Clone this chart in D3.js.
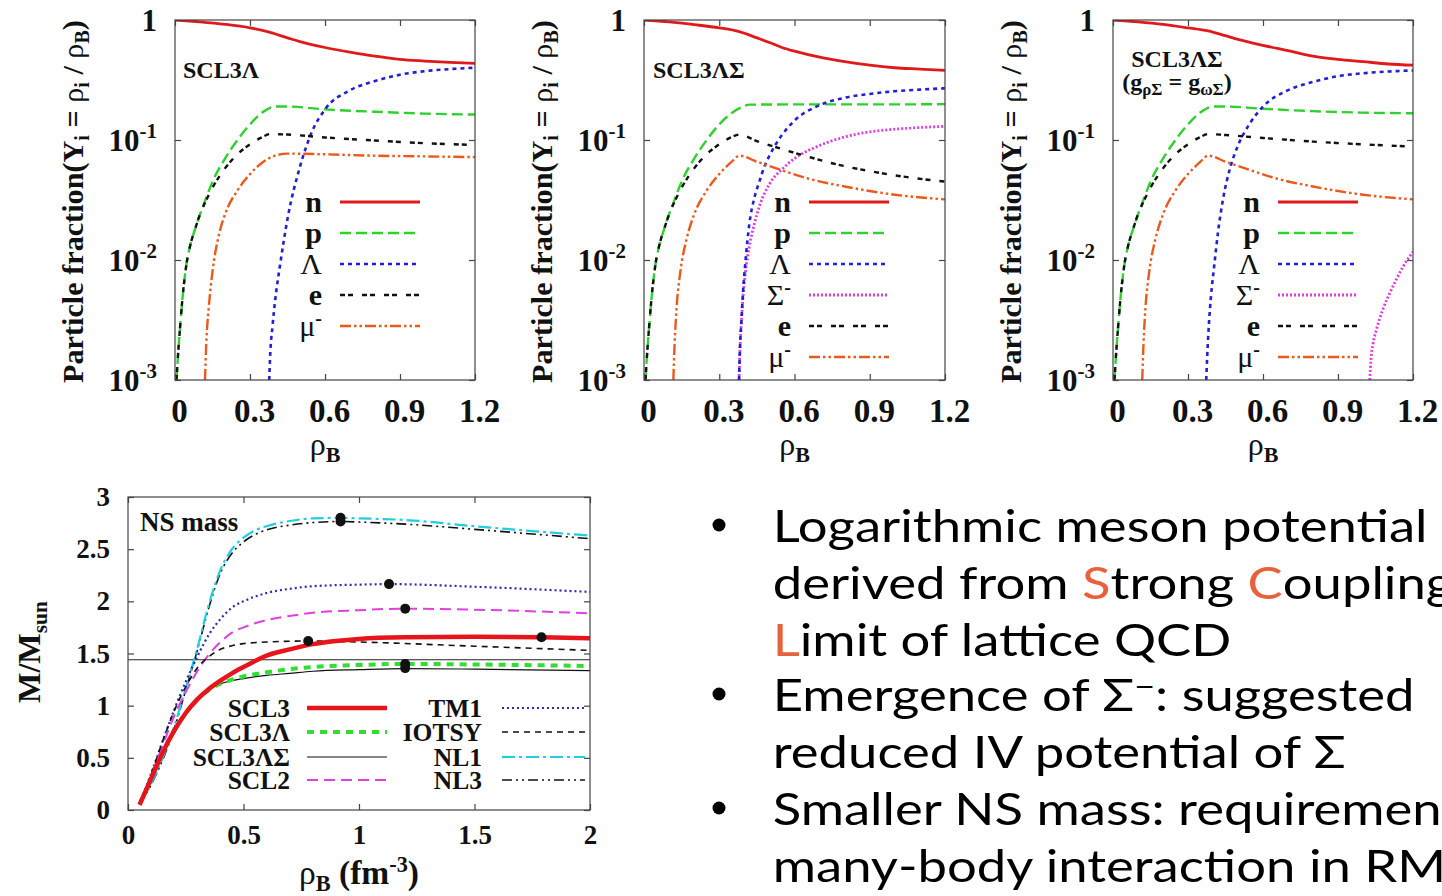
<!DOCTYPE html>
<html><head><meta charset="utf-8">
<script src="https://cdn.jsdelivr.net/npm/d3@7"></script>
<style>
html,body{margin:0;padding:0;background:#fff;}
svg{display:block;}
</style></head><body>
<svg id="c" width="1442" height="896"></svg>
<script>
// ---------------- DATA ----------------
const xTicksTop = [0, 0.3, 0.6, 0.9, 1.2];
const xTickLabelsTop = ["0", "0.3", "0.6", "0.9", "1.2"];
const yTicksTop = [1, 0.1, 0.01, 0.001];
const yTickLabelsTop = [["1", ""], ["10", "-1"], ["10", "-2"], ["10", "-3"]];

// Panel 1: SCL3Λ  [rhoB, Y]
const scl3L_n = [[0,1],[0.1,0.965],[0.2,0.92],[0.3,0.86],[0.37,0.80],[0.45,0.71],[0.5,0.66],[0.6,0.59],[0.7,0.54],[0.8,0.50],[0.9,0.47],[1.0,0.455],[1.1,0.443],[1.2,0.435]];
const scl3L_p = [[0.006,0.001],[0.012,0.0016],[0.02,0.0027],[0.03,0.0048],[0.045,0.009],[0.06,0.013],[0.08,0.018],[0.1,0.024],[0.12,0.031],[0.15,0.045],[0.2,0.07],[0.25,0.1],[0.3,0.135],[0.35,0.17],[0.4,0.19],[0.45,0.19],[0.6,0.18],[0.8,0.172],[1.0,0.166],[1.2,0.163]];
const scl3L_L = [[0.377,0.001],[0.38,0.0015],[0.39,0.0028],[0.4,0.0045],[0.42,0.009],[0.45,0.022],[0.5,0.06],[0.55,0.12],[0.6,0.18],[0.7,0.26],[0.8,0.31],[0.9,0.35],[1.0,0.375],[1.1,0.39],[1.2,0.40]];
const scl3L_e = [[0.006,0.001],[0.012,0.0016],[0.02,0.0027],[0.03,0.0048],[0.045,0.009],[0.06,0.013],[0.08,0.018],[0.1,0.024],[0.12,0.03],[0.15,0.04],[0.2,0.058],[0.25,0.076],[0.3,0.092],[0.35,0.106],[0.38,0.112],[0.45,0.111],[0.6,0.105],[0.8,0.099],[1.0,0.094],[1.2,0.091]];
const scl3L_mu = [[0.12,0.001],[0.125,0.002],[0.135,0.004],[0.15,0.008],[0.175,0.016],[0.2,0.024],[0.25,0.038],[0.3,0.052],[0.35,0.065],[0.4,0.074],[0.45,0.077],[0.6,0.076],[0.8,0.074],[1.0,0.073],[1.2,0.072]];

// Panel 2: SCL3ΛΣ
const scl3LS_n = [[0,1],[0.1,0.965],[0.2,0.915],[0.3,0.86],[0.38,0.80],[0.45,0.71],[0.5,0.65],[0.55,0.59],[0.6,0.55],[0.7,0.49],[0.8,0.45],[0.9,0.42],[1.0,0.40],[1.1,0.39],[1.2,0.38]];
const scl3LS_p = [[0.006,0.001],[0.012,0.0016],[0.02,0.0027],[0.03,0.0048],[0.045,0.009],[0.06,0.013],[0.08,0.018],[0.1,0.024],[0.12,0.031],[0.15,0.045],[0.2,0.07],[0.25,0.1],[0.3,0.135],[0.35,0.168],[0.4,0.192],[0.42,0.197],[0.6,0.198],[0.8,0.198],[1.0,0.198],[1.2,0.199]];
const scl3LS_L = [[0.379,0.001],[0.382,0.0017],[0.388,0.003],[0.395,0.0055],[0.405,0.01],[0.42,0.02],[0.44,0.033],[0.46,0.045],[0.48,0.06],[0.5,0.074],[0.55,0.11],[0.6,0.145],[0.7,0.195],[0.8,0.225],[0.9,0.242],[1.0,0.255],[1.1,0.263],[1.2,0.27]];
const scl3LS_S = [[0.379,0.001],[0.382,0.0017],[0.388,0.003],[0.395,0.005],[0.405,0.008],[0.42,0.013],[0.44,0.02],[0.46,0.028],[0.5,0.043],[0.55,0.057],[0.6,0.07],[0.7,0.09],[0.8,0.106],[0.9,0.117],[1.0,0.123],[1.1,0.127],[1.2,0.13]];
const scl3LS_e = [[0.006,0.001],[0.012,0.0016],[0.02,0.0027],[0.03,0.0048],[0.045,0.009],[0.06,0.013],[0.08,0.018],[0.1,0.024],[0.12,0.03],[0.15,0.04],[0.2,0.058],[0.25,0.076],[0.3,0.092],[0.35,0.106],[0.38,0.111],[0.45,0.098],[0.55,0.084],[0.65,0.073],[0.75,0.064],[0.9,0.055],[1.05,0.049],[1.2,0.045]];
const scl3LS_mu = [[0.117,0.001],[0.122,0.002],[0.13,0.004],[0.145,0.008],[0.17,0.015],[0.2,0.024],[0.25,0.038],[0.3,0.052],[0.35,0.066],[0.38,0.074],[0.45,0.066],[0.55,0.056],[0.65,0.048],[0.8,0.041],[1.0,0.035],[1.2,0.032]];

// Panel 3: SCL3ΛΣ (gρΣ = gωΣ)
const scl3LSg_n = [[0,1],[0.1,0.965],[0.2,0.92],[0.3,0.86],[0.38,0.81],[0.45,0.74],[0.5,0.69],[0.6,0.615],[0.7,0.555],[0.8,0.50],[0.9,0.47],[1.0,0.45],[1.1,0.43],[1.2,0.42]];
const scl3LSg_p = [[0.006,0.001],[0.012,0.0016],[0.02,0.0027],[0.03,0.0048],[0.045,0.009],[0.06,0.013],[0.08,0.018],[0.1,0.024],[0.12,0.031],[0.15,0.045],[0.2,0.07],[0.25,0.1],[0.3,0.135],[0.35,0.17],[0.4,0.19],[0.45,0.19],[0.6,0.182],[0.8,0.174],[1.0,0.169],[1.2,0.167]];
const scl3LSg_L = [[0.373,0.001],[0.377,0.0016],[0.384,0.003],[0.392,0.005],[0.405,0.009],[0.42,0.017],[0.44,0.032],[0.47,0.06],[0.5,0.09],[0.55,0.14],[0.6,0.19],[0.7,0.26],[0.8,0.305],[0.9,0.34],[1.0,0.36],[1.1,0.372],[1.2,0.38]];
const scl3LSg_S = [[1.027,0.001],[1.032,0.0015],[1.04,0.002],[1.053,0.0026],[1.08,0.0039],[1.107,0.0053],[1.135,0.007],[1.16,0.0088],[1.2,0.0117]];
const scl3LSg_e = [[0.006,0.001],[0.012,0.0016],[0.02,0.0027],[0.03,0.0048],[0.045,0.009],[0.06,0.013],[0.08,0.018],[0.1,0.024],[0.12,0.03],[0.15,0.04],[0.2,0.058],[0.25,0.076],[0.3,0.092],[0.35,0.106],[0.38,0.112],[0.45,0.11],[0.6,0.104],[0.8,0.097],[1.0,0.092],[1.2,0.088]];
const scl3LSg_mu = [[0.117,0.001],[0.122,0.002],[0.13,0.004],[0.145,0.008],[0.17,0.015],[0.2,0.024],[0.25,0.038],[0.3,0.052],[0.35,0.066],[0.38,0.074],[0.45,0.066],[0.55,0.056],[0.65,0.048],[0.8,0.041],[1.0,0.035],[1.2,0.032]];

// NS mass panel  [rhoB (fm^-3), M/Msun]
const xTicksNS = [0, 0.5, 1, 1.5, 2];
const yTicksNS = [0, 0.5, 1, 1.5, 2, 2.5, 3];
const canonicalMass = 1.44;
const ns_SCL3 = [[0.05,0.05],[0.1,0.3],[0.15,0.55],[0.2,0.76],[0.25,0.93],[0.3,1.06],[0.35,1.16],[0.4,1.24],[0.45,1.31],[0.5,1.37],[0.6,1.48],[0.7,1.54],[0.8,1.59],[0.9,1.62],[1.0,1.64],[1.2,1.655],[1.5,1.66],[1.79,1.655],[2.0,1.645]];
const ns_SCL3L = [[0.05,0.05],[0.1,0.3],[0.15,0.55],[0.2,0.76],[0.25,0.93],[0.3,1.06],[0.35,1.15],[0.4,1.21],[0.45,1.25],[0.5,1.28],[0.6,1.32],[0.7,1.35],[0.8,1.37],[1.0,1.39],[1.2,1.40],[1.5,1.395],[2.0,1.38]];
const ns_SCL3LS = [[0.05,0.05],[0.1,0.3],[0.15,0.55],[0.2,0.76],[0.25,0.93],[0.3,1.06],[0.35,1.15],[0.4,1.21],[0.45,1.24],[0.5,1.26],[0.6,1.29],[0.7,1.31],[0.8,1.33],[1.0,1.345],[1.2,1.355],[1.5,1.35],[2.0,1.335]];
const ns_SCL2 = [[0.05,0.06],[0.1,0.33],[0.15,0.62],[0.2,0.9],[0.25,1.13],[0.3,1.33],[0.35,1.49],[0.4,1.61],[0.45,1.7],[0.5,1.75],[0.6,1.82],[0.7,1.86],[0.8,1.89],[1.0,1.915],[1.2,1.93],[1.5,1.92],[2.0,1.885]];
const ns_TM1 = [[0.05,0.06],[0.1,0.35],[0.15,0.66],[0.2,0.96],[0.25,1.23],[0.3,1.47],[0.35,1.68],[0.4,1.83],[0.45,1.94],[0.5,2.0],[0.6,2.08],[0.7,2.12],[0.8,2.145],[1.0,2.16],[1.13,2.165],[1.5,2.14],[2.0,2.09]];
const ns_IOTSY = [[0.05,0.06],[0.1,0.34],[0.15,0.66],[0.2,0.95],[0.25,1.18],[0.3,1.36],[0.35,1.47],[0.4,1.54],[0.45,1.575],[0.5,1.595],[0.6,1.61],[0.78,1.62],[1.0,1.61],[1.5,1.57],[2.0,1.53]];
const ns_NL1 = [[0.05,0.05],[0.1,0.25],[0.15,0.5],[0.2,0.8],[0.25,1.17],[0.3,1.55],[0.35,1.97],[0.4,2.3],[0.45,2.5],[0.5,2.61],[0.55,2.68],[0.6,2.72],[0.7,2.77],[0.8,2.795],[0.92,2.80],[1.0,2.795],[1.2,2.78],[1.5,2.72],[2.0,2.63]];
const ns_NL3 = [[0.05,0.05],[0.1,0.24],[0.15,0.48],[0.2,0.78],[0.25,1.15],[0.3,1.53],[0.35,1.94],[0.4,2.27],[0.45,2.46],[0.5,2.57],[0.55,2.64],[0.6,2.685],[0.7,2.73],[0.8,2.755],[0.92,2.765],[1.0,2.76],[1.2,2.74],[1.5,2.69],[2.0,2.60]];
const ns_maxPoints = [[0.92,2.80],[0.92,2.765],[1.13,2.165],[1.2,1.93],[0.78,1.62],[1.79,1.655],[1.2,1.40],[1.2,1.36]];

const bulletLines = [
  [{t:"Logarithmic meson potential"}],
  [{t:"derived from "},{t:"S",hl:true},{t:"trong "},{t:"C",hl:true},{t:"oupling"}],
  [{t:"L",hl:true},{t:"imit of lattice QCD"}],
  [{t:"Emergence of \u03A3"},{t:"\u2212",size:30,dy:-14},{t:": suggested",dy:14}],
  [{t:"reduced IV potential of \u03A3"}],
  [{t:"Smaller NS mass: requirement"}],
  [{t:"many-body interaction in RM"}]
];
const bulletStarts = [0, 3, 5];

// ---------------- STYLES ----------------
const FONT = "'Liberation Serif','Times New Roman',serif";
const styles = {
  n:  {color:"#e01a1a", width:2.8, dash:null},
  p:  {color:"#2ed12e", width:2.4, dash:"11,5"},
  L:  {color:"#1f1fd6", width:2.6, dash:"4,4"},
  S:  {color:"#e03ce0", width:2.8, dash:"2,2"},
  e:  {color:"#111111", width:2.4, dash:"5,3,5,9"},
  mu: {color:"#ea5a1c", width:2.4, dash:"11,3,2.5,3,2.5,3"}
};
const nsStyles = {
  SCL3:   {color:"#e8141c", width:4.5, dash:null},
  SCL3L:  {color:"#33dd33", width:4, dash:"7,6"},
  SCL3LS: {color:"#111", width:1.2, dash:null},
  SCL2:   {color:"#e040e0", width:2, dash:"11,6"},
  TM1:    {color:"#2a2ab8", width:2.2, dash:"2,3"},
  IOTSY:  {color:"#111", width:1.6, dash:"6,5"},
  NL1:    {color:"#22cde0", width:2.2, dash:"13,4,3,4"},
  NL3:    {color:"#111", width:1.6, dash:"10,4,2,4,2,4"}
};

const svg = d3.select("#c");
svg.append("rect").attr("width",1442).attr("height",896).attr("fill","#fff");
const defs = svg.append("defs");

function rich(sel, parts){
  parts.forEach(p=>{
    const ts = sel.append("tspan").text(p.t);
    if(p.size) ts.attr("font-size", p.size);
    if(p.dy) ts.attr("dy", p.dy);
    if(p.fw) ts.attr("font-weight", p.fw);
    if(p.fill) ts.attr("fill", p.fill);
  });
}
function styleLine(sel, st){
  sel.attr("fill","none").attr("stroke",st.color).attr("stroke-width",st.width)
     .attr("stroke-linejoin","round");
  if(st.dash) sel.attr("stroke-dasharray", st.dash);
}
function fittedText(g, parts, size, target, tx, ty, rot){
  const t = g.append("text").attr("font-family",FONT).attr("font-weight","bold")
    .attr("font-size",size).attr("text-anchor","middle").attr("fill","#111");
  rich(t, parts);
  const len = t.node().getComputedTextLength();
  const k = target/len;
  t.attr("transform",`translate(${tx},${ty})${rot?" rotate(-90)":""} scale(${k})`);
  return t;
}

// ---------------- TOP PANELS ----------------
function topPanel(cfg){
  const top=20, bottom=380;
  const g = svg.append("g");
  const x = d3.scaleLinear().domain([0,1.2]).range([cfg.left,cfg.right]);
  const y = d3.scaleLog().domain([1e-3,1]).range([bottom,top]);
  defs.append("clipPath").attr("id",cfg.id).append("rect")
    .attr("x",cfg.left).attr("y",top).attr("width",cfg.right-cfg.left).attr("height",bottom-top);
  const line = d3.line().x(d=>x(d[0])).y(d=>y(d[1])).curve(d3.curveMonotoneX);
  const cg = g.append("g").attr("clip-path",`url(#${cfg.id})`);
  cfg.series.forEach(s=>{
    cg.append("path").attr("d",line(s.data)).call(styleLine, styles[s.key]);
  });
  g.append("rect").attr("x",cfg.left).attr("y",top).attr("width",cfg.right-cfg.left)
    .attr("height",bottom-top).attr("fill","none").attr("stroke","#444").attr("stroke-width",1.2);
  const ax = (sel)=>{sel.select(".domain").remove(); sel.selectAll("line").attr("stroke","#444").attr("stroke-width",1.2);};
  const xb = g.append("g").attr("transform",`translate(0,${bottom})`)
    .call(d3.axisBottom(x).tickValues(xTicksTop).tickSize(-6).tickPadding(19)
      .tickFormat((d,i)=>xTickLabelsTop[i])).call(ax);
  xb.selectAll("text").attr("font-family",FONT).attr("font-weight","bold").attr("font-size",33)
    .attr("dx",4).attr("fill","#111");
  g.append("g").attr("transform",`translate(0,${top})`)
    .call(d3.axisTop(x).tickValues(xTicksTop).tickSize(-6).tickFormat("")).call(ax);
  g.append("g").attr("transform",`translate(${cfg.left},0)`)
    .call(d3.axisLeft(y).tickValues(yTicksTop).tickSize(-6).tickFormat("")).call(ax);
  g.append("g").attr("transform",`translate(${cfg.right},0)`)
    .call(d3.axisRight(y).tickValues(yTicksTop).tickSize(-6).tickFormat("")).call(ax);
  yTicksTop.forEach((v,i)=>{
    const lab = yTickLabelsTop[i];
    const t = g.append("text").attr("x",cfg.left-18).attr("y",y(v)+11)
      .attr("text-anchor","end").attr("font-family",FONT).attr("font-weight","bold")
      .attr("font-size",31).attr("fill","#111");
    const parts=[{t:lab[0]}];
    if(lab[1]) parts.push({t:lab[1],size:21,dy:-13});
    rich(t, parts);
  });
  const xt = g.append("text").attr("x",(cfg.left+cfg.right)/2).attr("y",455)
    .attr("text-anchor","middle").attr("font-family",FONT).attr("font-size",32).attr("fill","#111");
  rich(xt,[{t:"\u03C1"},{t:"B",size:22,dy:7,fw:"bold"}]);
  fittedText(g,[{t:"Particle fraction(Y"},{t:"i",size:20,dy:6},{t:" = ",dy:-6},{t:"\u03C1",fw:"normal"},
    {t:"i",size:20,dy:6},{t:" / ",dy:-6},{t:"\u03C1",fw:"normal"},{t:"B",size:20,dy:6},{t:")",dy:-6}],
    30, 363, cfg.left-92, 201.5, true);
  cfg.annot.forEach(a=>{
    const t = g.append("text").attr("x",cfg.left+a.dx).attr("y",a.y)
      .attr("text-anchor",a.anchor).attr("font-family",FONT).attr("font-weight","bold")
      .attr("font-size",24).attr("fill","#111");
    rich(t,a.parts);
  });
  cfg.legend.forEach((it,i)=>{
    const yy = 202 + 31*i;
    g.append("line").attr("x1",cfg.left+165).attr("x2",cfg.left+245).attr("y1",yy).attr("y2",yy)
      .call(styleLine, styles[it.key]);
    const t = g.append("text").attr("x",cfg.left+147).attr("y",yy+10).attr("text-anchor","end")
      .attr("font-family",FONT).attr("font-weight","bold").attr("font-size",30).attr("fill","#111");
    rich(t,it.parts);
  });
}

const lgN = {key:"n",parts:[{t:"n"}]}, lgP={key:"p",parts:[{t:"p"}]}, lgL={key:"L",parts:[{t:"\u039B",fw:"normal"}]};
const lgS = {key:"S",parts:[{t:"\u03A3",fw:"normal"},{t:"-",size:20,dy:-11}]};
const lgE = {key:"e",parts:[{t:"e"}]};
const lgMu = {key:"mu",parts:[{t:"\u03BC",fw:"normal"},{t:"-",size:20,dy:-11}]};

topPanel({id:"cp1",left:175,right:475,
  series:[{key:"n",data:scl3L_n},{key:"p",data:scl3L_p},{key:"L",data:scl3L_L},{key:"e",data:scl3L_e},{key:"mu",data:scl3L_mu}],
  annot:[{dx:8,y:78,anchor:"start",parts:[{t:"SCL3\u039B"}]}],
  legend:[lgN,lgP,lgL,lgE,lgMu]});
topPanel({id:"cp2",left:644,right:945,
  series:[{key:"n",data:scl3LS_n},{key:"p",data:scl3LS_p},{key:"S",data:scl3LS_S},{key:"L",data:scl3LS_L},{key:"e",data:scl3LS_e},{key:"mu",data:scl3LS_mu}],
  annot:[{dx:9,y:78,anchor:"start",parts:[{t:"SCL3\u039B\u03A3"}]}],
  legend:[lgN,lgP,lgL,lgS,lgE,lgMu]});
topPanel({id:"cp3",left:1113,right:1413,
  series:[{key:"n",data:scl3LSg_n},{key:"p",data:scl3LSg_p},{key:"L",data:scl3LSg_L},{key:"S",data:scl3LSg_S},{key:"e",data:scl3LSg_e},{key:"mu",data:scl3LSg_mu}],
  annot:[{dx:64,y:67,anchor:"middle",parts:[{t:"SCL3\u039B\u03A3"}]},
         {dx:64,y:90,anchor:"middle",parts:[{t:"(g"},{t:"\u03C1\u03A3",size:17,dy:5},{t:" = g",dy:-5},{t:"\u03C9\u03A3",size:17,dy:5},{t:")",dy:-5}]}],
  legend:[lgN,lgP,lgL,lgS,lgE,lgMu]});

// ---------------- NS MASS PANEL ----------------
(function(){
  const L=128,R=590,T=497,B=810;
  const g = svg.append("g");
  const x = d3.scaleLinear().domain([0,2]).range([L,R]);
  const y = d3.scaleLinear().domain([0,3]).range([B,T]);
  defs.append("clipPath").attr("id","cpns").append("rect").attr("x",L).attr("y",T).attr("width",R-L).attr("height",B-T);
  const cg = g.append("g").attr("clip-path","url(#cpns)");
  const line = d3.line().x(d=>x(d[0])).y(d=>y(d[1])).curve(d3.curveMonotoneX);
  cg.append("line").attr("x1",L).attr("x2",R).attr("y1",y(canonicalMass)).attr("y2",y(canonicalMass))
    .attr("stroke","#222").attr("stroke-width",1);
  const order = [["NL3",ns_NL3],["NL1",ns_NL1],["TM1",ns_TM1],["SCL2",ns_SCL2],["IOTSY",ns_IOTSY],["SCL3LS",ns_SCL3LS],["SCL3L",ns_SCL3L],["SCL3",ns_SCL3]];
  order.forEach(([k,d])=>cg.append("path").attr("d",line(d)).call(styleLine, nsStyles[k]));
  cg.selectAll("circle.mx").data(ns_maxPoints).join("circle").attr("class","mx")
    .attr("cx",d=>x(d[0])).attr("cy",d=>y(d[1])).attr("r",5).attr("fill","#111");
  g.append("rect").attr("x",L).attr("y",T).attr("width",R-L).attr("height",B-T)
    .attr("fill","none").attr("stroke","#444").attr("stroke-width",1.2);
  const ax = (sel)=>{sel.select(".domain").remove(); sel.selectAll("line").attr("stroke","#444").attr("stroke-width",1.2);
    sel.selectAll("text").attr("font-family",FONT).attr("font-weight","bold").attr("font-size",27).attr("fill","#111");};
  g.append("g").attr("transform",`translate(0,${B})`).call(d3.axisBottom(x).tickValues(xTicksNS).tickSize(-6).tickPadding(15).tickFormat(d3.format(""))).call(ax);
  g.append("g").attr("transform",`translate(0,${T})`).call(d3.axisTop(x).tickValues(xTicksNS).tickSize(-6).tickFormat("")).call(ax);
  g.append("g").attr("transform",`translate(${L},0)`).call(d3.axisLeft(y).tickValues(yTicksNS).tickSize(-6).tickPadding(18).tickFormat(d3.format(""))).call(ax);
  g.append("g").attr("transform",`translate(${R},0)`).call(d3.axisRight(y).tickValues(yTicksNS).tickSize(-6).tickFormat("")).call(ax);
  fittedText(g,[{t:"\u03C1",fw:"normal"},{t:"B",size:18,dy:6},{t:" (fm",dy:-6},{t:"-3",size:18,dy:-10},{t:")",dy:10}],
    27, 120, (L+R)/2, 884, false);
  fittedText(g,[{t:"M/M"},{t:"sun",size:18,dy:6}], 27, 102, 40, 652, true);
  g.append("text").attr("x",140).attr("y",531).attr("font-family",FONT).attr("font-weight","bold")
    .attr("font-size",27).attr("fill","#111").text("NS mass");
  const left = [["SCL3","SCL3"],["SCL3L","SCL3\u039B"],["SCL3LS","SCL3\u039B\u03A3"],["SCL2","SCL2"]];
  const right = [["TM1","TM1"],["IOTSY","IOTSY"],["NL1","NL1"],["NL3","NL3"]];
  const rows = [708, 732, 757, 780];
  [[left,290,307,387],[right,482,502,585]].forEach(([items,tx,x1,x2])=>{
    items.forEach(([k,lab],i)=>{
      g.append("line").attr("x1",x1).attr("x2",x2).attr("y1",rows[i]).attr("y2",rows[i]).call(styleLine, nsStyles[k]);
      g.append("text").attr("x",tx).attr("y",rows[i]+9).attr("text-anchor","end").attr("font-family",FONT)
        .attr("font-weight","bold").attr("font-size",25.5).attr("fill","#111").text(lab);
    });
  });
})();

// ---------------- BULLET TEXT ----------------
(function(){
  const baselines = [542, 599, 656, 711, 768, 825, 882];
  const tg = svg.append("g");
  const inner = tg.append("g");
  const texts = bulletLines.map((parts,i)=>{
    const t = inner.append("text").attr("x",0).attr("y",baselines[i])
      .attr("font-family","Lato,'Open Sans',sans-serif").attr("font-weight",400)
      .attr("font-size",44).attr("fill","#000");
    parts.forEach(p=>{
      const ts=t.append("tspan").text(p.t);
      if(p.hl) ts.attr("fill","#e8603c");
      if(p.size) ts.attr("font-size",p.size);
      if(p.dy) ts.attr("dy",p.dy);
    });
    return t;
  });
  const w = texts[0].node().getComputedTextLength();
  const sx = 655/w;
  inner.attr("transform",`translate(772.7,0) scale(${sx},1)`);
  bulletStarts.forEach(i=>{
    tg.append("circle").attr("cx",719).attr("cy",baselines[i]-17).attr("r",6.5).attr("fill","#000");
  });
})();
</script></body></html>
